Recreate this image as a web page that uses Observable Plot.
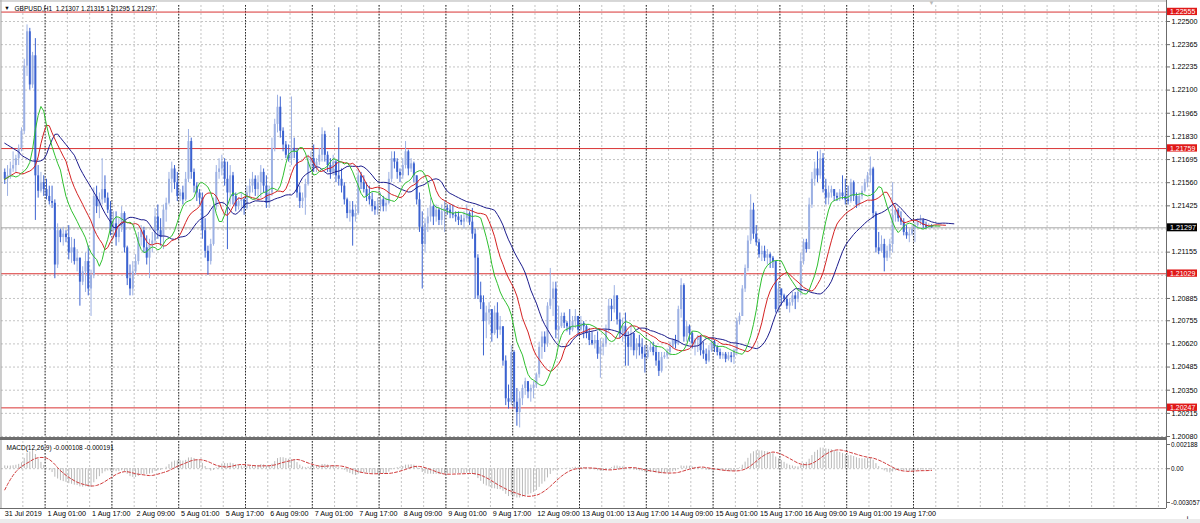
<!DOCTYPE html>
<html><head><meta charset="utf-8">
<script src="https://cdn.jsdelivr.net/npm/d3@7"></script>
<script src="https://cdn.jsdelivr.net/npm/@observablehq/plot@0.6"></script>
<style>
html,body{margin:0;padding:0;background:#fff;}
#wrap{position:relative;width:1200px;height:523px;overflow:hidden;background:#fff;}
#wrap svg{position:absolute;left:0;overflow:visible;}
#strip{position:absolute;left:0;top:519px;width:1200px;height:4px;background:#ececec;}
</style></head><body><div id="wrap"></div>
<script>
// ---------- data ----------
const symbolTitle = "GBPUSD,H1  1.21307 1.21315 1.21295 1.21297";
const macdTitle = "MACD(12,26,9) -0.000108 -0.000191";
const firstOpen = 1.2162;
const highs = [
1.2164,1.2166,1.2168,1.2174,1.2172,1.2178,1.2188,1.2228,1.2248,1.2246,
1.2232,1.2240,1.2166,1.2162,1.2160,1.2158,1.2154,1.2154,1.2146,1.2132,
1.2129,1.2130,1.2128,1.2131,1.2124,1.2123,1.2117,1.2112,1.2107,1.2115,
1.2119,1.2105,1.2153,1.2154,1.2150,1.2170,1.2160,1.2150,1.2145,1.2139,
1.2139,1.2135,1.2142,1.2139,1.2119,1.2108,1.2110,1.2114,1.2127,1.2131,
1.2130,1.2125,1.2123,1.2127,1.2141,1.2143,1.2135,1.2143,1.2147,1.2162,
1.2168,1.2166,1.2162,1.2152,1.2154,1.2162,1.2187,1.2182,1.2164,1.2156,
1.2152,1.2150,1.2135,1.2119,1.2123,1.2147,1.2166,1.2170,1.2172,1.2170,
1.2168,1.2166,1.2162,1.2150,1.2147,1.2150,1.2147,1.2154,1.2158,1.2162,
1.2160,1.2160,1.2166,1.2164,1.2160,1.2154,1.2182,1.2193,1.2207,1.2206,
1.2188,1.2180,1.2178,1.2206,1.2182,1.2176,1.2154,1.2150,1.2158,1.2172,
1.2174,1.2178,1.2170,1.2176,1.2188,1.2186,1.2174,1.2170,1.2172,1.2169,
1.2188,1.2164,1.2156,1.2147,1.2145,1.2145,1.2143,1.2164,1.2162,1.2160,
1.2156,1.2154,1.2150,1.2145,1.2147,1.2150,1.2148,1.2147,1.2162,1.2174,
1.2174,1.2170,1.2164,1.2170,1.2180,1.2175,1.2170,1.2168,1.2160,1.2150,
1.2139,1.2135,1.2141,1.2147,1.2143,1.2143,1.2141,1.2143,1.2145,1.2143,
1.2143,1.2143,1.2139,1.2139,1.2137,1.2139,1.2143,1.2139,1.2141,1.2129,
1.2114,1.2098,1.2090,1.2084,1.2086,1.2082,1.2084,1.2086,1.2078,1.2072,
1.2055,1.2038,1.2061,1.2058,1.2036,1.2034,1.2038,1.2042,1.2040,1.2038,
1.2040,1.2045,1.2063,1.2069,1.2069,1.2086,1.2106,1.2098,1.2098,1.2084,
1.2080,1.2080,1.2075,1.2082,1.2078,1.2082,1.2078,1.2078,1.2075,1.2073,
1.2071,1.2069,1.2067,1.2069,1.2065,1.2065,1.2073,1.2088,1.2088,1.2096,
1.2090,1.2080,1.2077,1.2080,1.2069,1.2073,1.2068,1.2065,1.2067,1.2065,
1.2061,1.2061,1.2063,1.2063,1.2061,1.2057,1.2057,1.2057,1.2059,1.2063,
1.2065,1.2067,1.2084,1.2100,1.2097,1.2075,1.2073,1.2069,1.2065,1.2067,
1.2067,1.2063,1.2059,1.2061,1.2065,1.2064,1.2061,1.2059,1.2057,1.2057,
1.2057,1.2057,1.2059,1.2077,1.2080,1.2096,1.2108,1.2125,1.2149,1.2144,
1.2131,1.2123,1.2119,1.2119,1.2117,1.2115,1.2113,1.2110,1.2098,1.2094,
1.2091,1.2090,1.2088,1.2092,1.2092,1.2094,1.2115,1.2123,1.2123,1.2147,
1.2162,1.2168,1.2174,1.2175,1.2173,1.2158,1.2154,1.2154,1.2152,1.2150,
1.2152,1.2160,1.2158,1.2154,1.2158,1.2157,1.2150,1.2150,1.2154,1.2158,
1.2162,1.2171,1.2165,1.2139,1.2127,1.2125,1.2123,1.2119,1.2123,1.2156,
1.2143,1.2141,1.2139,1.2135,1.2131,1.2129,1.2131,1.2133,1.2135,1.2137,
1.2135,1.2133,1.2132,1.21315];
const lows = [
1.2155,1.2148,1.2158,1.2162,1.2162,1.2166,1.2174,1.2184,1.2218,1.2210,
1.2211,1.2134,1.2147,1.2150,1.2148,1.2146,1.2143,1.2141,1.2100,1.2106,
1.2121,1.2119,1.2121,1.2111,1.2109,1.2108,1.2104,1.2084,1.2096,1.2092,
1.2090,1.2078,1.2100,1.2138,1.2135,1.2143,1.2144,1.2138,1.2125,1.2123,
1.2119,1.2121,1.2127,1.2115,1.2096,1.2090,1.2090,1.2102,1.2108,1.2119,
1.2115,1.2108,1.2100,1.2115,1.2120,1.2123,1.2119,1.2117,1.2133,1.2143,
1.2150,1.2152,1.2145,1.2145,1.2143,1.2145,1.2156,1.2158,1.2150,1.2145,
1.2143,1.2123,1.2112,1.2102,1.2108,1.2119,1.2140,1.2158,1.2160,1.2154,
1.2117,1.2143,1.2143,1.2139,1.2140,1.2139,1.2137,1.2140,1.2147,1.2150,
1.2148,1.2145,1.2147,1.2150,1.2141,1.2141,1.2148,1.2174,1.2185,1.2182,
1.2174,1.2170,1.2168,1.2166,1.2170,1.2147,1.2141,1.2141,1.2137,1.2154,
1.2164,1.2162,1.2162,1.2166,1.2168,1.2168,1.2162,1.2158,1.2160,1.2156,
1.2154,1.2150,1.2143,1.2135,1.2133,1.2119,1.2133,1.2137,1.2152,1.2150,
1.2145,1.2143,1.2139,1.2137,1.2137,1.2139,1.2139,1.2139,1.2143,1.2156,
1.2164,1.2158,1.2156,1.2158,1.2164,1.2160,1.2162,1.2156,1.2143,1.2127,
1.2094,1.2115,1.2127,1.2133,1.2131,1.2133,1.2131,1.2131,1.2127,1.2137,
1.2135,1.2135,1.2133,1.2131,1.2131,1.2129,1.2133,1.2131,1.2123,1.2088,
1.2088,1.2082,1.2055,1.2065,1.2073,1.2063,1.2067,1.2065,1.2067,1.2049,
1.2026,1.2024,1.2026,1.2024,1.2014,1.2013,1.2026,1.2032,1.2030,1.2028,
1.2030,1.2036,1.2042,1.2053,1.2057,1.2060,1.2082,1.2078,1.2065,1.2063,
1.2071,1.2071,1.2069,1.2067,1.2069,1.2071,1.2067,1.2069,1.2065,1.2065,
1.2061,1.2061,1.2059,1.2053,1.2042,1.2055,1.2060,1.2069,1.2075,1.2080,
1.2073,1.2065,1.2063,1.2049,1.2049,1.2058,1.2055,1.2053,1.2055,1.2053,
1.2045,1.2053,1.2057,1.2055,1.2049,1.2043,1.2045,1.2053,1.2053,1.2055,
1.2059,1.2059,1.2061,1.2077,1.2063,1.2063,1.2063,1.2059,1.2055,1.2057,
1.2055,1.2053,1.2050,1.2051,1.2057,1.2057,1.2055,1.2053,1.2053,1.2051,
1.2052,1.2051,1.2050,1.2055,1.2073,1.2078,1.2092,1.2104,1.2120,1.2123,
1.2119,1.2112,1.2110,1.2110,1.2108,1.2106,1.2106,1.2080,1.2080,1.2084,
1.2086,1.2082,1.2080,1.2084,1.2082,1.2086,1.2090,1.2108,1.2115,1.2117,
1.2141,1.2154,1.2156,1.2158,1.2150,1.2143,1.2143,1.2147,1.2145,1.2145,
1.2145,1.2146,1.2143,1.2143,1.2144,1.2145,1.2141,1.2142,1.2146,1.2150,
1.2153,1.2156,1.2135,1.2115,1.2114,1.2115,1.2104,1.2110,1.2112,1.2115,
1.2133,1.2133,1.2131,1.2125,1.2123,1.2121,1.2125,1.2121,1.2129,1.2131,
1.2129,1.2129,1.2129,1.21295];
const closes = [
1.2158,1.2160,1.2164,1.2166,1.2170,1.2176,1.2186,1.2224,1.2244,1.2213,
1.2230,1.2160,1.2151,1.2156,1.2152,1.2148,1.2145,1.2144,1.2108,1.2128,
1.2124,1.2126,1.2124,1.2115,1.2118,1.2110,1.2112,1.2098,1.2104,1.2110,
1.2094,1.2102,1.2148,1.2142,1.2146,1.2152,1.2147,1.2140,1.2128,1.2132,
1.2124,1.2130,1.2138,1.2118,1.2100,1.2094,1.2104,1.2110,1.2124,1.2128,
1.2118,1.2112,1.2120,1.2122,1.2136,1.2128,1.2124,1.2140,1.2144,1.2158,
1.2164,1.2156,1.2148,1.2150,1.2146,1.2158,1.2180,1.2162,1.2154,1.2150,
1.2147,1.2128,1.2116,1.2110,1.2120,1.2142,1.2162,1.2164,1.2168,1.2158,
1.2150,1.2160,1.2148,1.2142,1.2145,1.2146,1.2141,1.2150,1.2154,1.2158,
1.2152,1.2156,1.2162,1.2154,1.2144,1.2150,1.2176,1.2190,1.2200,1.2186,
1.2178,1.2172,1.2170,1.2176,1.2174,1.2150,1.2145,1.2147,1.2155,1.2168,
1.2170,1.2165,1.2168,1.2172,1.2184,1.2172,1.2166,1.2162,1.2168,1.2160,
1.2158,1.2154,1.2146,1.2138,1.2140,1.2136,1.2138,1.2160,1.2156,1.2152,
1.2148,1.2146,1.2142,1.2140,1.2143,1.2146,1.2142,1.2144,1.2158,1.2170,
1.2168,1.2162,1.2160,1.2166,1.2174,1.2164,1.2167,1.2160,1.2146,1.2130,
1.2120,1.2132,1.2136,1.2142,1.2136,1.2140,1.2134,1.2139,1.2141,1.2140,
1.2138,1.2137,1.2136,1.2134,1.2133,1.2135,1.2138,1.2133,1.2126,1.2112,
1.2090,1.2086,1.2075,1.2080,1.2082,1.2068,1.2080,1.2070,1.2072,1.2052,
1.2030,1.2028,1.2057,1.2028,1.2022,1.2030,1.2036,1.2040,1.2034,1.2036,
1.2038,1.2044,1.2060,1.2066,1.2062,1.2084,1.2088,1.2094,1.2070,1.2072,
1.2078,1.2074,1.2072,1.2070,1.2075,1.2078,1.2070,1.2074,1.2072,1.2068,
1.2064,1.2062,1.2064,1.2056,1.2060,1.2062,1.2070,1.2084,1.2082,1.2090,
1.2076,1.2068,1.2072,1.2066,1.2060,1.2068,1.2058,1.2062,1.2060,1.2056,
1.2054,1.2058,1.2060,1.2057,1.2052,1.2046,1.2054,1.2055,1.2057,1.2060,
1.2064,1.2062,1.2082,1.2096,1.2066,1.2072,1.2068,1.2062,1.2064,1.2066,
1.2058,1.2056,1.2052,1.2058,1.2063,1.2060,1.2057,1.2055,1.2056,1.2053,
1.2055,1.2054,1.2058,1.2075,1.2078,1.2094,1.2106,1.2122,1.2140,1.2126,
1.2121,1.2114,1.2116,1.2112,1.2114,1.2112,1.2110,1.2082,1.2094,1.2090,
1.2088,1.2084,1.2086,1.2090,1.2088,1.2092,1.2110,1.2121,1.2117,1.2143,
1.2158,1.2164,1.2160,1.2170,1.2152,1.2147,1.2150,1.2152,1.2148,1.2147,
1.2150,1.2148,1.2146,1.2145,1.2156,1.2148,1.2143,1.2148,1.2151,1.2156,
1.2160,1.2164,1.2138,1.2118,1.2116,1.2120,1.2112,1.2116,1.2120,1.2137,
1.2140,1.2135,1.2133,1.2127,1.2125,1.2126,1.2129,1.2131,1.2133,1.2134,
1.2131,1.2130,1.21307,1.21297];

const priceTicks = [1.22500,1.22365,1.22235,1.22100,1.21965,1.21830,1.21695,1.21560,1.21425,1.21290,
                    1.21155,1.21020,1.20885,1.20755,1.20620,1.20485,1.20350,1.20215,1.20080];
// tick labels that sit under a level box in the reference and are not visible there
const coveredTicks = [1.21290, 1.21020];
const levels = [1.22555, 1.21759, 1.21029, 1.20247];
const lastPrice = 1.21297;
const timeLabels = ["31 Jul 2019","1 Aug 01:00","1 Aug 17:00","2 Aug 09:00","5 Aug 01:00","5 Aug 17:00",
  "6 Aug 09:00","7 Aug 01:00","7 Aug 17:00","8 Aug 09:00","9 Aug 01:00","9 Aug 17:00","12 Aug 09:00",
  "13 Aug 01:00","13 Aug 17:00","14 Aug 09:00","15 Aug 01:00","15 Aug 17:00","16 Aug 09:00","19 Aug 01:00","19 Aug 17:00"];
const timeLabelBars = [-0.4,15,31,47,63,79,95,111,127,143,159,175,191,207,223,239,255,271,287,303,319];
const dayStartBars = [15,39,63,87,111,135,159,183,207,231,255,279,303,327];
// Alligator lines at the left edge (values before the first computed point)
const jawSeed = [1.2179,1.2178,1.2177,1.2176,1.2175,1.2174,1.2172,1.2171];
const teethSeed = [1.2158,1.2159,1.2160,1.2161,1.2162];
const lipsSeed = [1.2158,1.2159,1.2160];
// MACD state before the first bar
const macdFastSeed = 1.2161, macdSlowSeed = 1.2158;
const macdPrior = [-0.0042,-0.0037,-0.0032,-0.0026,-0.0020,-0.0013,-0.0006,0.0001];
const macdTicks = [0.002188, 0, -0.003057];
const macdTickLabels = ["0.002188", "0.00", "-0.003057"];

// ---------- derived ----------
const bars = closes.map((c, i) => {
  const open = i ? closes[i - 1] : firstOpen;
  return {i, open, close: c, high: Math.max(highs[i], open, c), low: Math.min(lows[i], open, c)};
});
function smma(seed, n) {
  let prev = seed[seed.length - 1];
  return bars.map(b => (prev = (prev * (n - 1) + (b.high + b.low) / 2) / n));
}
function alligator(seed, n) {
  const shift = seed.length;
  return [...seed.map((v, k) => ({x: k, y: v})), ...smma(seed, n).map((v, i) => ({x: i + shift, y: v}))];
}
const jawLine = alligator(jawSeed, 13);
const teethLine = alligator(teethSeed, 8);
const lipsLine = alligator(lipsSeed, 5);

let e12 = macdFastSeed, e26 = macdSlowSeed;
const mainVals = bars.map(b => { e12 += (2/13)*(b.close - e12); e26 += (2/27)*(b.close - e26); return e12 - e26; });
const histAll = [...macdPrior, ...mainVals];
const macdData = mainVals.map((m, i) => ({i, main: m, signal: d3.mean(histAll.slice(i, i + 9))}));

// ---------- layout ----------
const W = 1200, mL = 1, mR = 34;
const xDomain = [-1.17, 417.4];
const plotW = W - mL - mR;
const px2x = p => xDomain[0] + (p - mL) / plotW * (xDomain[1] - xDomain[0]);
const mainTop = 5, mainBottom = 437;
const yDomain = [1.200742, 1.225933];
const ppu = (mainBottom - mainTop) / (yDomain[1] - yDomain[0]);
const py2y = p => yDomain[1] - (p - mainTop) / ppu;
const gridBars = d3.range(6.5, xDomain[1], 8);
const sepBars = dayStartBars.map(b => b - 0.5);
const labeledTicks = priceTicks.filter(t => !coveredTicks.includes(t));
const font = "'Liberation Sans', Arial, sans-serif";
const bullC = "#9cb0e3", bearC = "#3b62d0";
const gridC = "#c4c4c4", axisC = "#6b6b6b";

const main = Plot.plot({
  width: W, height: 438, marginLeft: mL, marginRight: mR, marginTop: mainTop, marginBottom: 1,
  x: {type: "linear", domain: xDomain, axis: null},
  y: {type: "linear", domain: yDomain, axis: null},
  style: {background: "transparent", fontFamily: font, fontSize: "7.2px", color: "#000", overflow: "visible"},
  marks: [
    Plot.ruleY(priceTicks, {stroke: gridC, strokeDasharray: "2,2"}),
    Plot.ruleX(gridBars, {stroke: gridC, strokeDasharray: "2,2"}),
    Plot.ruleX(sepBars, {stroke: "#2a2a2a", strokeDasharray: "1.5,1.5"}),
    Plot.ruleY([lastPrice], {stroke: "#a8a8a8"}),
    Plot.ruleY(levels, {stroke: "#d93434"}),
    Plot.ruleX(bars, {x: "i", y1: "low", y2: "high", stroke: d => d.close >= d.open ? bullC : bearC, strokeWidth: 1}),
    Plot.ruleX(bars, {x: "i", y1: "open", y2: "close", stroke: d => d.close >= d.open ? bullC : bearC, strokeWidth: 2}),
    Plot.line(jawLine, {x: "x", y: "y", stroke: "#1c1c8c", strokeWidth: 1}),
    Plot.line(teethLine, {x: "x", y: "y", stroke: "#d42222", strokeWidth: 1}),
    Plot.line(lipsLine, {x: "x", y: "y", stroke: "#2fc02f", strokeWidth: 1}),
    Plot.ruleX([px2x(0.5)], {stroke: "#9a9a9a", y1: py2y(0), y2: py2y(438)}),
    Plot.ruleY([py2y(0.5)], {stroke: "#b0b0b0", x1: px2x(0), x2: px2x(1166)}),
    Plot.ruleX([xDomain[1]], {stroke: axisC, y1: py2y(0), y2: py2y(438)}),
    Plot.axisY(labeledTicks, {anchor: "right", tickSize: 3, tickPadding: 2, stroke: axisC, fill: "#000",
      fontSize: 7.2, tickFormat: d => d.toFixed(5)}),
    Plot.rect(levels, {x1: () => px2x(1167), x2: () => px2x(1197), y1: d => d - 3.5 / ppu, y2: d => d + 3.8 / ppu, fill: "#e01818"}),
    Plot.text(levels, {x: () => px2x(1169.5), y: d => d, text: d => d.toFixed(5), fill: "#fff", textAnchor: "start", fontSize: 7}),
    Plot.rect([lastPrice], {x1: () => px2x(1167), x2: () => px2x(1197), y1: d => d - 4 / ppu, y2: d => d + 4 / ppu, fill: "#000"}),
    Plot.text([lastPrice], {x: () => px2x(1169.5), y: d => d, text: d => d.toFixed(5), fill: "#fff", textAnchor: "start", fontSize: 7.2}),
    Plot.text(["▼"], {x: () => px2x(6.5), y: () => py2y(8), text: d => d, fill: "#000", fontSize: 5.5}),
    Plot.text([symbolTitle], {x: () => px2x(14), y: () => py2y(8), text: d => d, fill: "#000", textAnchor: "start", fontSize: 6.5}),
    Plot.text(["▼"], {x: () => px2x(931), y: () => py2y(3), text: d => d, fill: "#b8b8b8", fontSize: 6})
  ]
});

// MACD panel: svg placed at top 436
const mTopAbs = 436;
const mDomain = [-0.0036, 0.002459];
const mpy2y = p => mDomain[1] - (p - 441) / ((508 - 441) / (mDomain[1] - mDomain[0]));
const labelMap = new Map(timeLabelBars.map((b, k) => [b, timeLabels[k]]));
const mLabelMap = new Map(macdTicks.map((v, k) => [v, macdTickLabels[k]]));

const macd = Plot.plot({
  width: W, height: 87, marginLeft: mL, marginRight: mR, marginTop: 441 - mTopAbs, marginBottom: mTopAbs + 87 - 508,
  x: {type: "linear", domain: xDomain, axis: null},
  y: {type: "linear", domain: mDomain, axis: null},
  style: {background: "transparent", fontFamily: font, fontSize: "7.2px", color: "#000", overflow: "visible"},
  marks: [
    Plot.ruleY([0], {stroke: gridC, strokeDasharray: "2,2"}),
    Plot.ruleX(gridBars, {stroke: gridC, strokeDasharray: "2,2"}),
    Plot.ruleX(sepBars, {stroke: "#2a2a2a", strokeDasharray: "1.5,1.5"}),
    Plot.ruleX(macdData, {x: "i", y1: 0, y2: "main", stroke: "#b9b9b9", strokeWidth: 1}),
    Plot.line(macdData, {x: "i", y: "signal", stroke: "#d03a3a", strokeWidth: 1, strokeDasharray: "3,2"}),
    Plot.rect([0], {x1: () => px2x(0), x2: () => px2x(1166), y1: () => mpy2y(437), y2: () => mpy2y(440), fill: "#6e6e6e"}),
    Plot.ruleY([mDomain[0]], {stroke: axisC, x1: px2x(0), x2: px2x(1166)}),
    Plot.ruleX([px2x(0.5)], {stroke: "#9a9a9a", y1: mpy2y(440), y2: mpy2y(508)}),
    Plot.ruleX([xDomain[1]], {stroke: axisC, y1: mpy2y(436), y2: mpy2y(508)}),
    Plot.axisY(macdTicks, {anchor: "right", tickSize: 3, tickPadding: 1.5, stroke: axisC, fill: "#000",
      fontSize: 6.4, tickFormat: d => mLabelMap.get(d)}),
    Plot.axisX(timeLabelBars, {anchor: "bottom", tickSize: 0, tickPadding: 2, textAnchor: "start", dx: 1,
      fill: "#000", fontSize: 7.2, tickFormat: d => labelMap.get(d)}),
    Plot.text([macdTitle], {x: () => px2x(6), y: () => mpy2y(447), text: d => d, fill: "#000", textAnchor: "start", fontSize: 6.5})
  ]
});

const wrap = document.getElementById("wrap");
main.style.top = "0px";
macd.style.top = mTopAbs + "px";
wrap.appendChild(main);
wrap.appendChild(macd);
const strip = document.createElement("div"); strip.id = "strip"; wrap.appendChild(strip);
</script></body></html>
